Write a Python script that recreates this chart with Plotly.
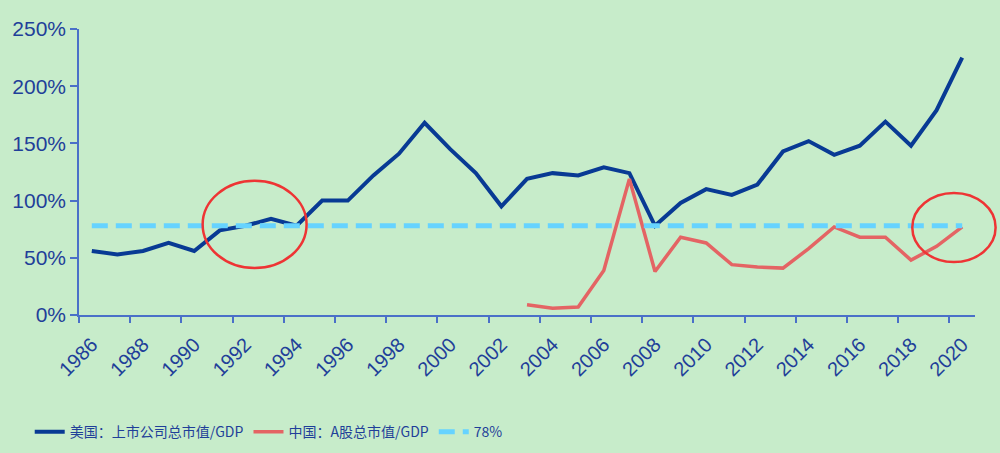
import plotly.graph_objects as go

# 美国 / 中国 市值/GDP
years = list(range(1986, 2021))
us_ratio = [56, 53, 56, 63, 56, 74, 78, 84, 78, 100,
            100, 122, 141, 168, 145, 124, 95, 119, 124, 122,
            129, 124, 78, 98, 110, 105, 114, 143, 152, 140,
            148, 169, 148, 179, 225]
cn_ratio = [None] * 17 + [9, 6, 7, 39, 119, 38, 68, 63, 44, 42,
                          41, 58, 77, 68, 68, 48, 60, 77]
ref_level = 78

bg = "#c7ecca"
axis_col = "#4a70c8"
text_col = "#1f3f99"

fig = go.Figure()
fig.add_trace(go.Scatter(x=years, y=us_ratio, mode="lines", name="美国：上市公司总市值/GDP",
                         line=dict(color="#083a94", width=4)))
fig.add_trace(go.Scatter(x=years, y=cn_ratio, mode="lines", name="中国：A股总市值/GDP",
                         line=dict(color="#e46464", width=3.5)))
# reference line sits on x2 (same range) so the label axis gets drawn
fig.add_trace(go.Scatter(x=[years[0], years[-1]], y=[ref_level, ref_level], mode="lines",
                         name=f"{ref_level}%", xaxis="x2",
                         line=dict(color="#66d3ff", width=5, dash="16px,8px")))

# red ellipses highlighting the two periods
for x0, x1, y0, y1 in [(0.138, 0.254, 0.164, 0.469), (0.930, 1.023, 0.185, 0.427)]:
    fig.add_shape(type="circle", xref="paper", yref="paper", x0=x0, x1=x1, y0=y0, y1=y1,
                  line=dict(color="#ee3434", width=2.5))

fig.update_layout(
    width=1000, height=453,
    margin=dict(l=79, r=25, t=29, b=138, autoexpand=False),
    paper_bgcolor=bg, plot_bgcolor=bg,
    font=dict(family="Liberation Sans, Arial", color=text_col),
    showlegend=True,
    legend=dict(orientation="h", x=-0.055, xanchor="left", y=-0.41, yanchor="middle",
                font=dict(family="Noto Sans CJK SC", size=14, color=text_col),
                bgcolor="rgba(0,0,0,0)"),
    xaxis=dict(range=[1985.5, 2020.5], tickvals=[y - 0.5 for y in years[::2]],
               showticklabels=False, ticks="outside", ticklen=6, tickcolor=axis_col,
               tickwidth=1.5, showline=True, linecolor=axis_col, linewidth=1.5,
               showgrid=False, zeroline=False),
    xaxis2=dict(overlaying="x", anchor="y", side="bottom", range=[1985.5, 2020.5],
                tickvals=years[::2], ticktext=[str(y) for y in years[::2]],
                tickangle=-45, ticks="outside", ticklen=9, tickcolor="rgba(0,0,0,0)",
                showline=False, showgrid=False, zeroline=False,
                tickfont=dict(size=20, color=text_col)),
    yaxis=dict(range=[0, 250], tickvals=[0, 50, 100, 150, 200, 250],
               ticktext=["0%", "50%", "100%", "150%", "200%", "250%"],
               ticks="outside", ticklen=7, tickcolor=axis_col, tickwidth=1.5,
               showline=True, linecolor=axis_col, linewidth=1.5,
               showgrid=False, zeroline=False, tickfont=dict(size=21, color=text_col)),
)

fig.write_html("out.html", config={"displayModeBar": False},
               post_script="document.body.style.margin='0';")
